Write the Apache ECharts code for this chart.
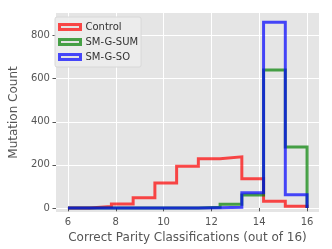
<!DOCTYPE html>
<html>
<head>
<meta charset="utf-8">
<script src="https://cdn.jsdelivr.net/npm/echarts@6/dist/echarts.min.js"></script>
<style>html,body{margin:0;padding:0;background:#fff}#c{width:332px;height:249px}</style>
</head>
<body>
<div id="c"></div>
<script>
// Histogram bins: 11 equal bins from 6 to 16
const binMin = 6;
const binMax = 16;
const binCount = 11;
// Counts per bin
const controlCounts = [0, 6, 18, 47, 116, 194, 228, 237, 135, 31, 8];
const sumCounts     = [0, 0, 0, 0, 0, 0, 3, 17, 60, 640, 283];
const soCounts      = [0, 0, 0, 0, 0, 0, 1, 3, 70, 862, 61];
const seriesNames = ['Control', 'SM-G-SUM', 'SM-G-SO'];
const xTicks = [6, 8, 10, 12, 14, 16];
const yTicks = [0, 200, 400, 600, 800];

const edges = [];
for (let i = 0; i <= binCount; i++) edges.push(binMin + (binMax - binMin) * i / binCount);

function stepPath(counts) {
  const pts = [[edges[0], 0]];
  counts.forEach((c, i) => { pts.push([edges[i], c]); pts.push([edges[i + 1], c]); });
  pts.push([edges[binCount], 0]);
  return pts;
}

const colors = ['#ff0000', '#008000', '#0000ff'];
const allCounts = [controlCounts, sumCounts, soCounts];
const font = 'DejaVu Sans';

const series = allCounts.map((counts, k) => ({
  name: seriesNames[k],
  type: 'line',
  data: stepPath(counts),
  showSymbol: false,
  symbol: 'none',
  silent: true,
  animation: false,
  legendIcon: 'rect',
  z: 2 + k,
  lineStyle: { color: colors[k], width: 3, opacity: 0.7, cap: 'butt', join: 'miter' },
  itemStyle: { color: colors[k] }
}));

const chart = echarts.init(document.getElementById('c'), null, { renderer: 'canvas' });
chart.setOption({
  animation: false,
  grid: { left: 50, right: 13, top: 13, bottom: 37, show: true, backgroundColor: '#e5e5e5', borderWidth: 0 },
  legend: {
    left: 55, top: 17, orient: 'vertical',
    padding: [4, 3, 4, 3],
    itemWidth: 21, itemHeight: 5, itemGap: 3,
    backgroundColor: 'rgba(236,236,236,0.9)', borderColor: '#d8d8d8', borderWidth: 1, borderRadius: 2,
    textStyle: { fontFamily: font, fontSize: 10, color: '#333', lineHeight: 12 },
    data: seriesNames.map((n, k) => ({
      name: n, icon: 'rect',
      itemStyle: { color: '#e0e0e0', borderColor: colors[k], borderWidth: 3, opacity: 0.7 }
    }))
  },
  xAxis: {
    type: 'value', min: 5.5, max: 16.5,
    name: 'Correct Parity Classifications (out of 16)', nameLocation: 'middle', nameGap: 14,
    nameTextStyle: { fontFamily: font, fontSize: 12, color: '#555' },
    axisLine: { show: false },
    axisTick: { show: true, length: 3.5, lineStyle: { color: '#555' }, customValues: xTicks },
    axisLabel: { fontFamily: font, fontSize: 10, color: '#555', margin: 5, customValues: xTicks },
    splitLine: { show: true, lineStyle: { color: '#ffffff', width: 1 } }
  },
  yAxis: {
    type: 'value', min: -19, max: 905,
    name: 'Mutation Count', nameLocation: 'middle', nameGap: 30,
    nameTextStyle: { fontFamily: font, fontSize: 12, color: '#555' },
    axisLine: { show: false },
    axisTick: { show: true, length: 3.5, lineStyle: { color: '#555' }, customValues: yTicks },
    axisLabel: { fontFamily: font, fontSize: 10, color: '#555', margin: 6, customValues: yTicks },
    splitLine: { show: true, lineStyle: { color: '#ffffff', width: 1 } }
  },
  series: series
});
</script>
</body>
</html>
